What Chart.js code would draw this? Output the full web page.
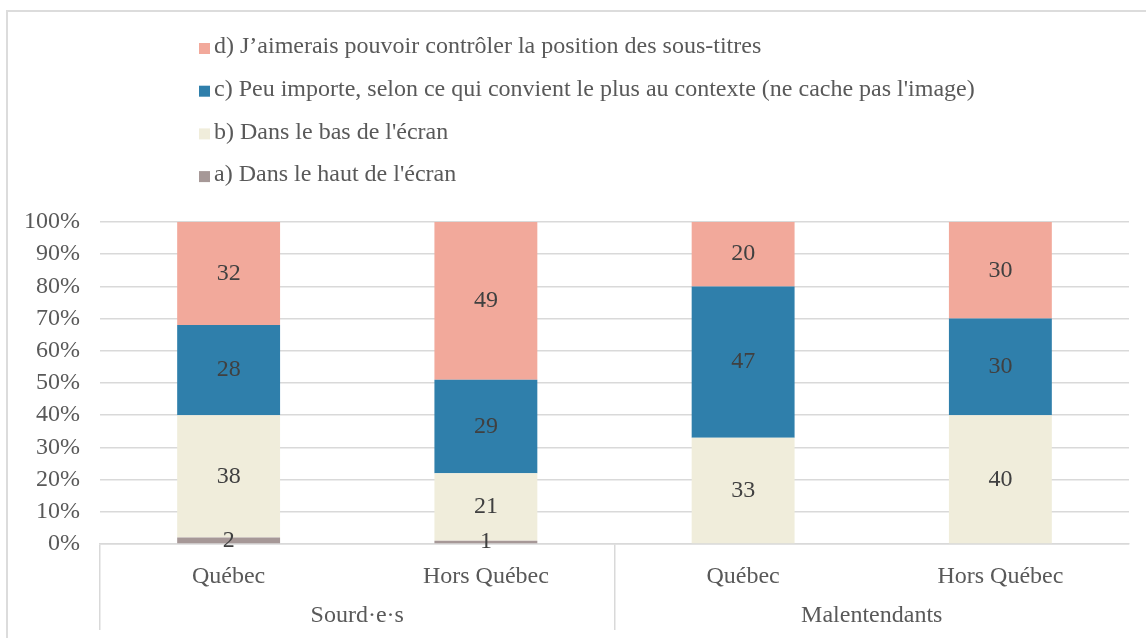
<!DOCTYPE html>
<html>
<head>
<meta charset="utf-8">
<script src="https://cdn.jsdelivr.net/npm/chart.js@4"></script>
<style>
  html, body { margin: 0; padding: 0; background: #fff; overflow: hidden; }
  #frame { position: absolute; left: 6px; top: 10px; width: 1200px; height: 700px; border: 2px solid #dcdcdc; }
  #wrap { position: absolute; left: 0; top: 0; width: 1146px; height: 638px; }
</style>
</head>
<body>
<div id="frame"></div>
<div id="wrap"><canvas id="chart"></canvas></div>
<script>
// categories (inner level) and groups (outer level)
const categories = ['Québec', 'Hors Québec', 'Québec', 'Hors Québec'];
const groups = ['Sourd·e·s', 'Malentendants'];

const seriesNames = [
  "a) Dans le haut de l'écran",
  "b) Dans le bas de l'écran",
  "c) Peu importe, selon ce qui convient le plus au contexte (ne cache pas l'image)",
  'd) J\u2019aimerais pouvoir contrôler la position des sous-titres'
];
const seriesA = [2, 1, 0, 0];
const seriesB = [38, 21, 33, 40];
const seriesC = [28, 29, 47, 30];
const seriesD = [32, 49, 20, 30];

const colors = ['#a69897', '#f0eddb', '#2f7fab', '#f2a99b'];
const serif = '"Liberation Serif", "Times New Roman", serif';

Chart.defaults.font.family = serif;
Chart.defaults.font.size = 24;
Chart.defaults.color = '#595959';

// numbers in the middle of each segment
const segmentLabels = {
  id: 'segmentLabels',
  afterDatasetsDraw(chart) {
    const ctx = chart.ctx;
    ctx.save();
    ctx.font = '24px ' + serif;
    ctx.fillStyle = '#404040';
    ctx.textAlign = 'center';
    ctx.textBaseline = 'middle';
    chart.data.datasets.forEach((ds, i) => {
      chart.getDatasetMeta(i).data.forEach((bar, j) => {
        const v = ds.data[j];
        if (!v) return;
        const p = bar.getProps(['x', 'y', 'base'], true);
        ctx.fillText(String(v), p.x, (p.y + p.base) / 2);
      });
    });
    ctx.restore();
  }
};

// legend as a single column, top series first
const columnLegend = {
  id: 'columnLegend',
  afterDraw(chart) {
    const ctx = chart.ctx;
    const items = chart.data.datasets.slice().reverse();
    ctx.save();
    ctx.font = '24px ' + serif;
    ctx.textAlign = 'left';
    ctx.textBaseline = 'middle';
    items.forEach((ds, k) => {
      const cy = 47 + k * 42.7;
      ctx.fillStyle = ds.backgroundColor;
      ctx.fillRect(199, cy - 4, 11, 11);
      ctx.fillStyle = '#595959';
      ctx.fillText(ds.label, 214, cy);
    });
    ctx.restore();
  }
};

const values = [seriesA, seriesB, seriesC, seriesD];

new Chart(document.getElementById('chart'), {
  type: 'bar',
  data: {
    labels: categories,
    datasets: values.map((d, i) => ({
      label: seriesNames[i],
      data: d,
      backgroundColor: colors[i],
      borderWidth: 0,
      categoryPercentage: 1,
      barPercentage: 0.4
    }))
  },
  options: {
    responsive: true,
    maintainAspectRatio: false,
    animation: false,
    layout: { padding: { top: 222, right: 17, bottom: 0, left: 0 } },
    plugins: {
      legend: { display: false },
      tooltip: { enabled: false }
    },
    scales: {
      x: {
        stacked: true,
        offset: true,
        grid: {
          display: true,
          drawOnChartArea: false,
          offset: true,
          tickLength: 86,
          lineWidth: 1.5,
          color: ctx => (ctx.index % 2 === 0 ? '#d9d9d9' : 'rgba(0,0,0,0)')
        },
        border: { display: true, color: '#d9d9d9', width: 1.5 },
        ticks: { padding: -68, color: '#595959' },
        afterFit: s => { s.height = 44; }
      },
      x2: {
        type: 'category',
        labels: groups,
        position: 'bottom',
        offset: true,
        grid: { display: false, drawTicks: false },
        border: { display: false },
        ticks: { padding: 13, color: '#595959' },
        afterFit: s => { s.height = 50; }
      },
      y: {
        stacked: true,
        min: 0,
        max: 100,
        grid: { color: '#d9d9d9', lineWidth: 1.5, drawTicks: false },
        border: { display: false },
        ticks: { stepSize: 10, padding: 20, callback: v => v + '%' },
        afterFit: s => { s.width = 100; }
      }
    }
  },
  plugins: [segmentLabels, columnLegend]
});
</script>
</body>
</html>
